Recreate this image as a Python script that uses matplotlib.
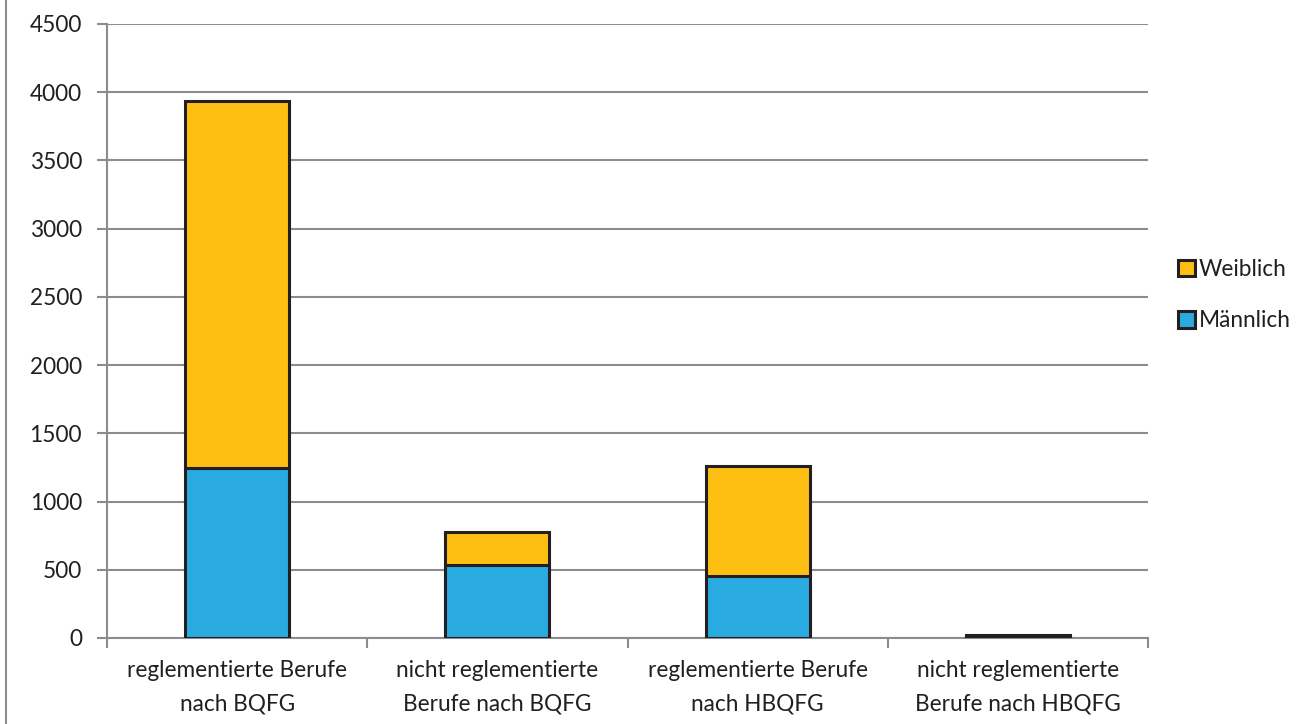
import matplotlib
matplotlib.use("Agg")
import matplotlib.pyplot as plt
from matplotlib.lines import Line2D
import numpy as np

plt.rcParams['font.family'] = ['Lato', 'DejaVu Sans']

categories = ["reglementierte Berufe\nnach BQFG", "nicht reglementierte\nBerufe nach BQFG",
              "reglementierte Berufe\nnach HBQFG", "nicht reglementierte\nBerufe nach HBQFG"]
maennlich = [1245, 535, 455, 8]
weiblich = [2690, 240, 805, 12]
yticks = [0, 500, 1000, 1500, 2000, 2500, 3000, 3500, 4000, 4500]

fig = plt.figure(figsize=(13.14, 7.24), dpi=100)
ax = fig.add_axes([107/1314, 1-638/724, (1148-107)/1314, (638-24)/724])

x = np.arange(len(categories))
grid_c = '#8c8c8c'
edge = '#231F20'
b1 = ax.bar(x, maennlich, width=0.4, color='#29ABE2', edgecolor=edge, linewidth=2.2, zorder=3, label='Männlich')
b2 = ax.bar(x, weiblich, bottom=maennlich, width=0.4, color='#FDBF12', edgecolor=edge, linewidth=2.2, zorder=3, label='Weiblich')

fs = 16.3
ax.set_xlim(-0.5, 3.5)
ax.set_ylim(0, 4500)
ax.set_yticks(yticks)
ax.set_yticklabels([str(v) for v in yticks], fontsize=fs, color='#231F20')
ax.set_xticks(x)
ax.set_xticklabels(categories, fontsize=fs, color='#231F20', linespacing=1.75)
ax.tick_params(axis='x', length=0, pad=16)
ax.tick_params(axis='y', length=7, width=1.5, color=grid_c, pad=11)
ax.set_xticks([-0.5, 0.5, 1.5, 2.5, 3.5], minor=True)
ax.tick_params(axis='x', which='minor', length=7, width=1.5, color=grid_c)

ax.yaxis.grid(True, color=grid_c, linewidth=1.5, zorder=0)
ax.set_axisbelow(True)
for s in ['top', 'right']:
    ax.spines[s].set_visible(False)
for s in ['left', 'bottom']:
    ax.spines[s].set_color(grid_c)
    ax.spines[s].set_linewidth(1.5)
    ax.spines[s].set_zorder(2)

leg = ax.legend(handles=[b2, b1], loc='center left', bbox_to_anchor=(1158/1314, 1-295/724),
                bbox_transform=fig.transFigure, frameon=False, fontsize=fs,
                handlelength=0.75, handleheight=0.75, handletextpad=0.15, labelspacing=1.35)
for t in leg.get_texts():
    t.set_color('#231F20')

fig.add_artist(Line2D([6/1314, 6/1314], [0, 1], color=grid_c, linewidth=1.5, transform=fig.transFigure))

fig.savefig('out.png', dpi=100)
